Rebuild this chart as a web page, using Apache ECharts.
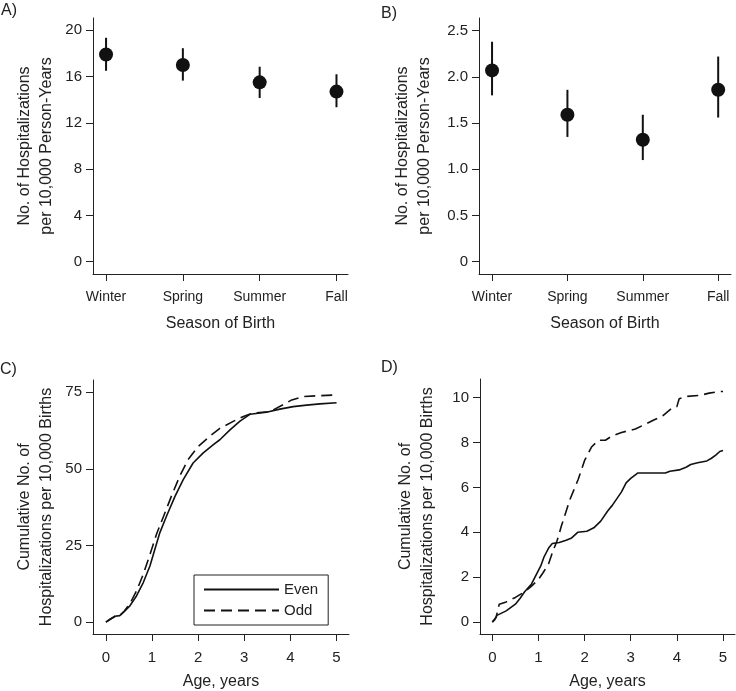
<!DOCTYPE html>
<html>
<head>
<meta charset="utf-8">
<script src="https://cdn.jsdelivr.net/npm/echarts@6/dist/echarts.min.js"></script>
<style>
html,body{margin:0;padding:0;background:#fff;}
#chart{width:736px;height:691px;}
</style>
</head>
<body>
<div id="chart"></div>
<script>
// ---- Data ----
const seasons = ['Winter', 'Spring', 'Summer', 'Fall'];
const rateA = [17.9, 17.0, 15.5, 14.7];
const lowA  = [16.5, 15.65, 14.15, 13.35];
const highA = [19.35, 18.45, 16.85, 16.2];
const rateB = [2.07, 1.59, 1.32, 1.86];
const lowB  = [1.80, 1.35, 1.10, 1.56];
const highB = [2.38, 1.86, 1.59, 2.22];

const ageEvenC = [0, 0.1, 0.2, 0.3, 0.4, 0.52, 0.665, 0.81, 0.954, 1.06, 1.17, 1.315, 1.5, 1.676, 1.89, 2.11, 2.33, 2.47, 2.69, 2.9, 3.12, 3.48, 3.77, 4.06, 4.35, 4.64, 5.0];
const evenC    = [0, 1.0, 1.9, 2.1, 3.5, 5.3, 8.6, 12.9, 18.3, 23.7, 29.2, 34.6, 41.1, 46.5, 51.9, 55.2, 57.9, 59.5, 62.7, 65.5, 67.8, 68.5, 69.5, 70.3, 70.8, 71.2, 71.6];
const ageOddC  = [0, 0.1, 0.2, 0.3, 0.4, 0.52, 0.665, 0.81, 0.954, 1.1, 1.28, 1.42, 1.6, 1.78, 2.0, 2.25, 2.47, 2.76, 2.98, 3.19, 3.56, 3.84, 4.03, 4.28, 4.64, 5.0];
const oddC     = [0, 1.0, 1.9, 2.1, 3.6, 6.0, 10.2, 15.6, 22.0, 28.8, 35.7, 41.1, 47.6, 53.0, 57.3, 60.6, 63.2, 65.5, 67.1, 68.2, 68.7, 70.9, 72.5, 73.6, 73.9, 74.1];

const ageEvenD = [0, 0.05, 0.1, 0.3, 0.5, 0.6, 0.7, 0.85, 0.95, 1.05, 1.12, 1.22, 1.3, 1.45, 1.6, 1.72, 1.85, 2.05, 2.2, 2.35, 2.5, 2.6, 2.7, 2.8, 2.9, 3.0, 3.15, 3.75, 3.85, 4.05, 4.2, 4.3, 4.45, 4.65, 4.75, 4.85, 4.93, 5.0];
const evenD    = [0, 0.1, 0.3, 0.5, 0.8, 1.05, 1.35, 1.7, 2.1, 2.5, 2.9, 3.3, 3.5, 3.55, 3.65, 3.75, 4.0, 4.05, 4.2, 4.5, 4.95, 5.2, 5.5, 5.8, 6.2, 6.4, 6.64, 6.64, 6.72, 6.78, 6.9, 7.02, 7.1, 7.18, 7.3, 7.45, 7.6, 7.65];
const ageOddD  = [0, 0.08, 0.15, 0.3, 0.5, 0.7, 0.85, 1.0, 1.1, 1.22, 1.32, 1.4, 1.5, 1.68, 1.86, 2.0, 2.15, 2.3, 2.45, 2.6, 2.8, 3.0, 3.1, 3.3, 3.5, 3.7, 3.9, 4.0, 4.05, 4.2, 4.5, 4.7, 4.9, 5.0];
const oddD     = [0, 0.2, 0.8, 0.9, 1.1, 1.35, 1.6, 1.9, 2.2, 2.6, 3.2, 3.6, 4.3, 5.45, 6.35, 7.2, 7.8, 8.1, 8.1, 8.3, 8.45, 8.55, 8.6, 8.8, 9.0, 9.2, 9.55, 9.6, 9.95, 10.05, 10.1, 10.2, 10.27, 10.27];

const ticksA = [0, 4, 8, 12, 16, 20];
const ticksB = [0, 0.5, 1.0, 1.5, 2.0, 2.5];
const ticksC = [0, 25, 50, 75];
const ticksD = [0, 2, 4, 6, 8, 10];
const ticksAge = [0, 1, 2, 3, 4, 5];
const seasonTicks = [1, 2, 3, 4];

// ---- Styling ----
const INK = '#111';
const AXC = '#222';
const FONT = '"Liberation Sans", Arial, Helvetica, sans-serif';

function zip(a, b) { return a.map((v, i) => [v, b[i]]); }

function xAxisCfg(gi, min, max, ticks, fmt, name, nameGap, fs) {
  return {
    type: 'value', gridIndex: gi, min: min, max: max,
    splitLine: {show: false},
    axisLine: {show: true, onZero: false, lineStyle: {color: AXC, width: 1}},
    axisTick: {show: true, customValues: ticks, length: 7, lineStyle: {color: AXC}},
    axisLabel: {customValues: ticks, formatter: fmt, color: '#222', fontSize: fs, fontFamily: FONT, margin: 16},
    name: name, nameLocation: 'middle', nameGap: nameGap,
    nameTextStyle: {color: '#222', fontSize: 16, fontFamily: FONT}
  };
}
function yAxisCfg(gi, min, max, ticks, fmt, name, nameGap) {
  return {
    type: 'value', gridIndex: gi, min: min, max: max,
    splitLine: {show: false},
    axisLine: {show: true, onZero: false, lineStyle: {color: AXC, width: 1}},
    axisTick: {show: true, customValues: ticks, length: 7, lineStyle: {color: AXC}},
    axisLabel: {customValues: ticks, formatter: fmt, color: '#222', fontSize: 15, fontFamily: FONT, margin: 11},
    name: name, nameLocation: 'middle', nameGap: nameGap,
    nameTextStyle: {color: '#222', fontSize: 16, fontFamily: FONT, lineHeight: 22}
  };
}

function errBars(gi, low, high) {
  return {
    type: 'custom', xAxisIndex: gi, yAxisIndex: gi,
    data: low.map((l, i) => [i + 1, l, high[i]]),
    renderItem: function (params, api) {
      const x = api.value(0);
      const p1 = api.coord([x, api.value(1)]);
      const p2 = api.coord([x, api.value(2)]);
      return {type: 'line', shape: {x1: p1[0], y1: p1[1], x2: p2[0], y2: p2[1]},
              style: {stroke: INK, lineWidth: 2}};
    },
    silent: true
  };
}
function dots(gi, vals) {
  return {
    type: 'scatter', xAxisIndex: gi, yAxisIndex: gi,
    data: vals.map((v, i) => [i + 1, v]),
    symbol: 'circle', symbolSize: 14,
    itemStyle: {color: INK, opacity: 1}, z: 5, silent: true
  };
}
function curve(gi, name, ages, vals, dashed) {
  return {
    type: 'line', name: name, xAxisIndex: gi, yAxisIndex: gi,
    data: zip(ages, vals), showSymbol: false, symbol: 'none',
    lineStyle: {color: INK, width: 1.6, type: dashed ? [11, 6] : 'solid'},
    itemStyle: {color: INK},
    silent: true, animation: false
  };
}

const seasonFmt = v => seasons[Math.round(v) - 1];
const decFmt = v => (v === 0 ? '0' : v.toFixed(1));
const intFmt = v => String(v);

const chart = echarts.init(document.getElementById('chart'), null, {renderer: 'canvas'});
chart.setOption({
  animation: false,
  backgroundColor: '#fff',
  textStyle: {fontFamily: FONT},
  grid: [
    {left: 93, top: 18, width: 255, height: 256},
    {left: 479, top: 18, width: 252, height: 256},
    {left: 93, top: 380, width: 256, height: 255},
    {left: 480, top: 379, width: 255, height: 256}
  ],
  xAxis: [
    xAxisCfg(0, 0.83, 4.15, seasonTicks, seasonFmt, 'Season of Birth', 42, 14),
    xAxisCfg(1, 0.827, 4.17, seasonTicks, seasonFmt, 'Season of Birth', 42, 14),
    xAxisCfg(2, -0.28, 5.27, ticksAge, intFmt, 'Age, years', 40, 15),
    xAxisCfg(3, -0.267, 5.26, ticksAge, intFmt, 'Age, years', 40, 15)
  ],
  yAxis: [
    yAxisCfg(0, -1.06, 21.06, ticksA, intFmt, 'No. of Hospitalizations\nper 10,000 Person-Years', 35),
    yAxisCfg(1, -0.133, 2.637, ticksB, decFmt, 'No. of Hospitalizations\nper 10,000 Person-Years', 43),
    yAxisCfg(2, -3.9, 79.0, ticksC, intFmt, 'Cumulative No. of\nHospitalizations per 10,000 Births', 35),
    yAxisCfg(3, -0.53, 10.83, ticksD, intFmt, 'Cumulative No. of\nHospitalizations per 10,000 Births', 41)
  ],
  legend: {
    data: ['Even', 'Odd'], orient: 'vertical', left: 194, top: 575,
    itemWidth: 75, itemHeight: 14, itemGap: 6, itemTextGap: 10,
    padding: [7, 10, 7, 9],
    borderColor: '#222', borderWidth: 1,
    itemStyle: {opacity: 0},
    textStyle: {color: '#222', fontSize: 15, fontFamily: FONT},
    selectedMode: false
  },
  graphic: [
    {type: 'text', left: 1, top: 3, style: {text: 'A)', font: '16px ' + FONT, fill: '#222'}},
    {type: 'text', left: 381, top: 6, style: {text: 'B)', font: '16px ' + FONT, fill: '#222'}},
    {type: 'text', left: 0, top: 362, style: {text: 'C)', font: '16px ' + FONT, fill: '#222'}},
    {type: 'text', left: 381, top: 360, style: {text: 'D)', font: '16px ' + FONT, fill: '#222'}}
  ],
  series: [
    errBars(0, lowA, highA), dots(0, rateA),
    errBars(1, lowB, highB), dots(1, rateB),
    curve(2, 'Even', ageEvenC, evenC, false),
    curve(2, 'Odd', ageOddC, oddC, true),
    curve(3, 'Even', ageEvenD, evenD, false),
    curve(3, 'Odd', ageOddD, oddD, true)
  ]
});
</script>
</body>
</html>
